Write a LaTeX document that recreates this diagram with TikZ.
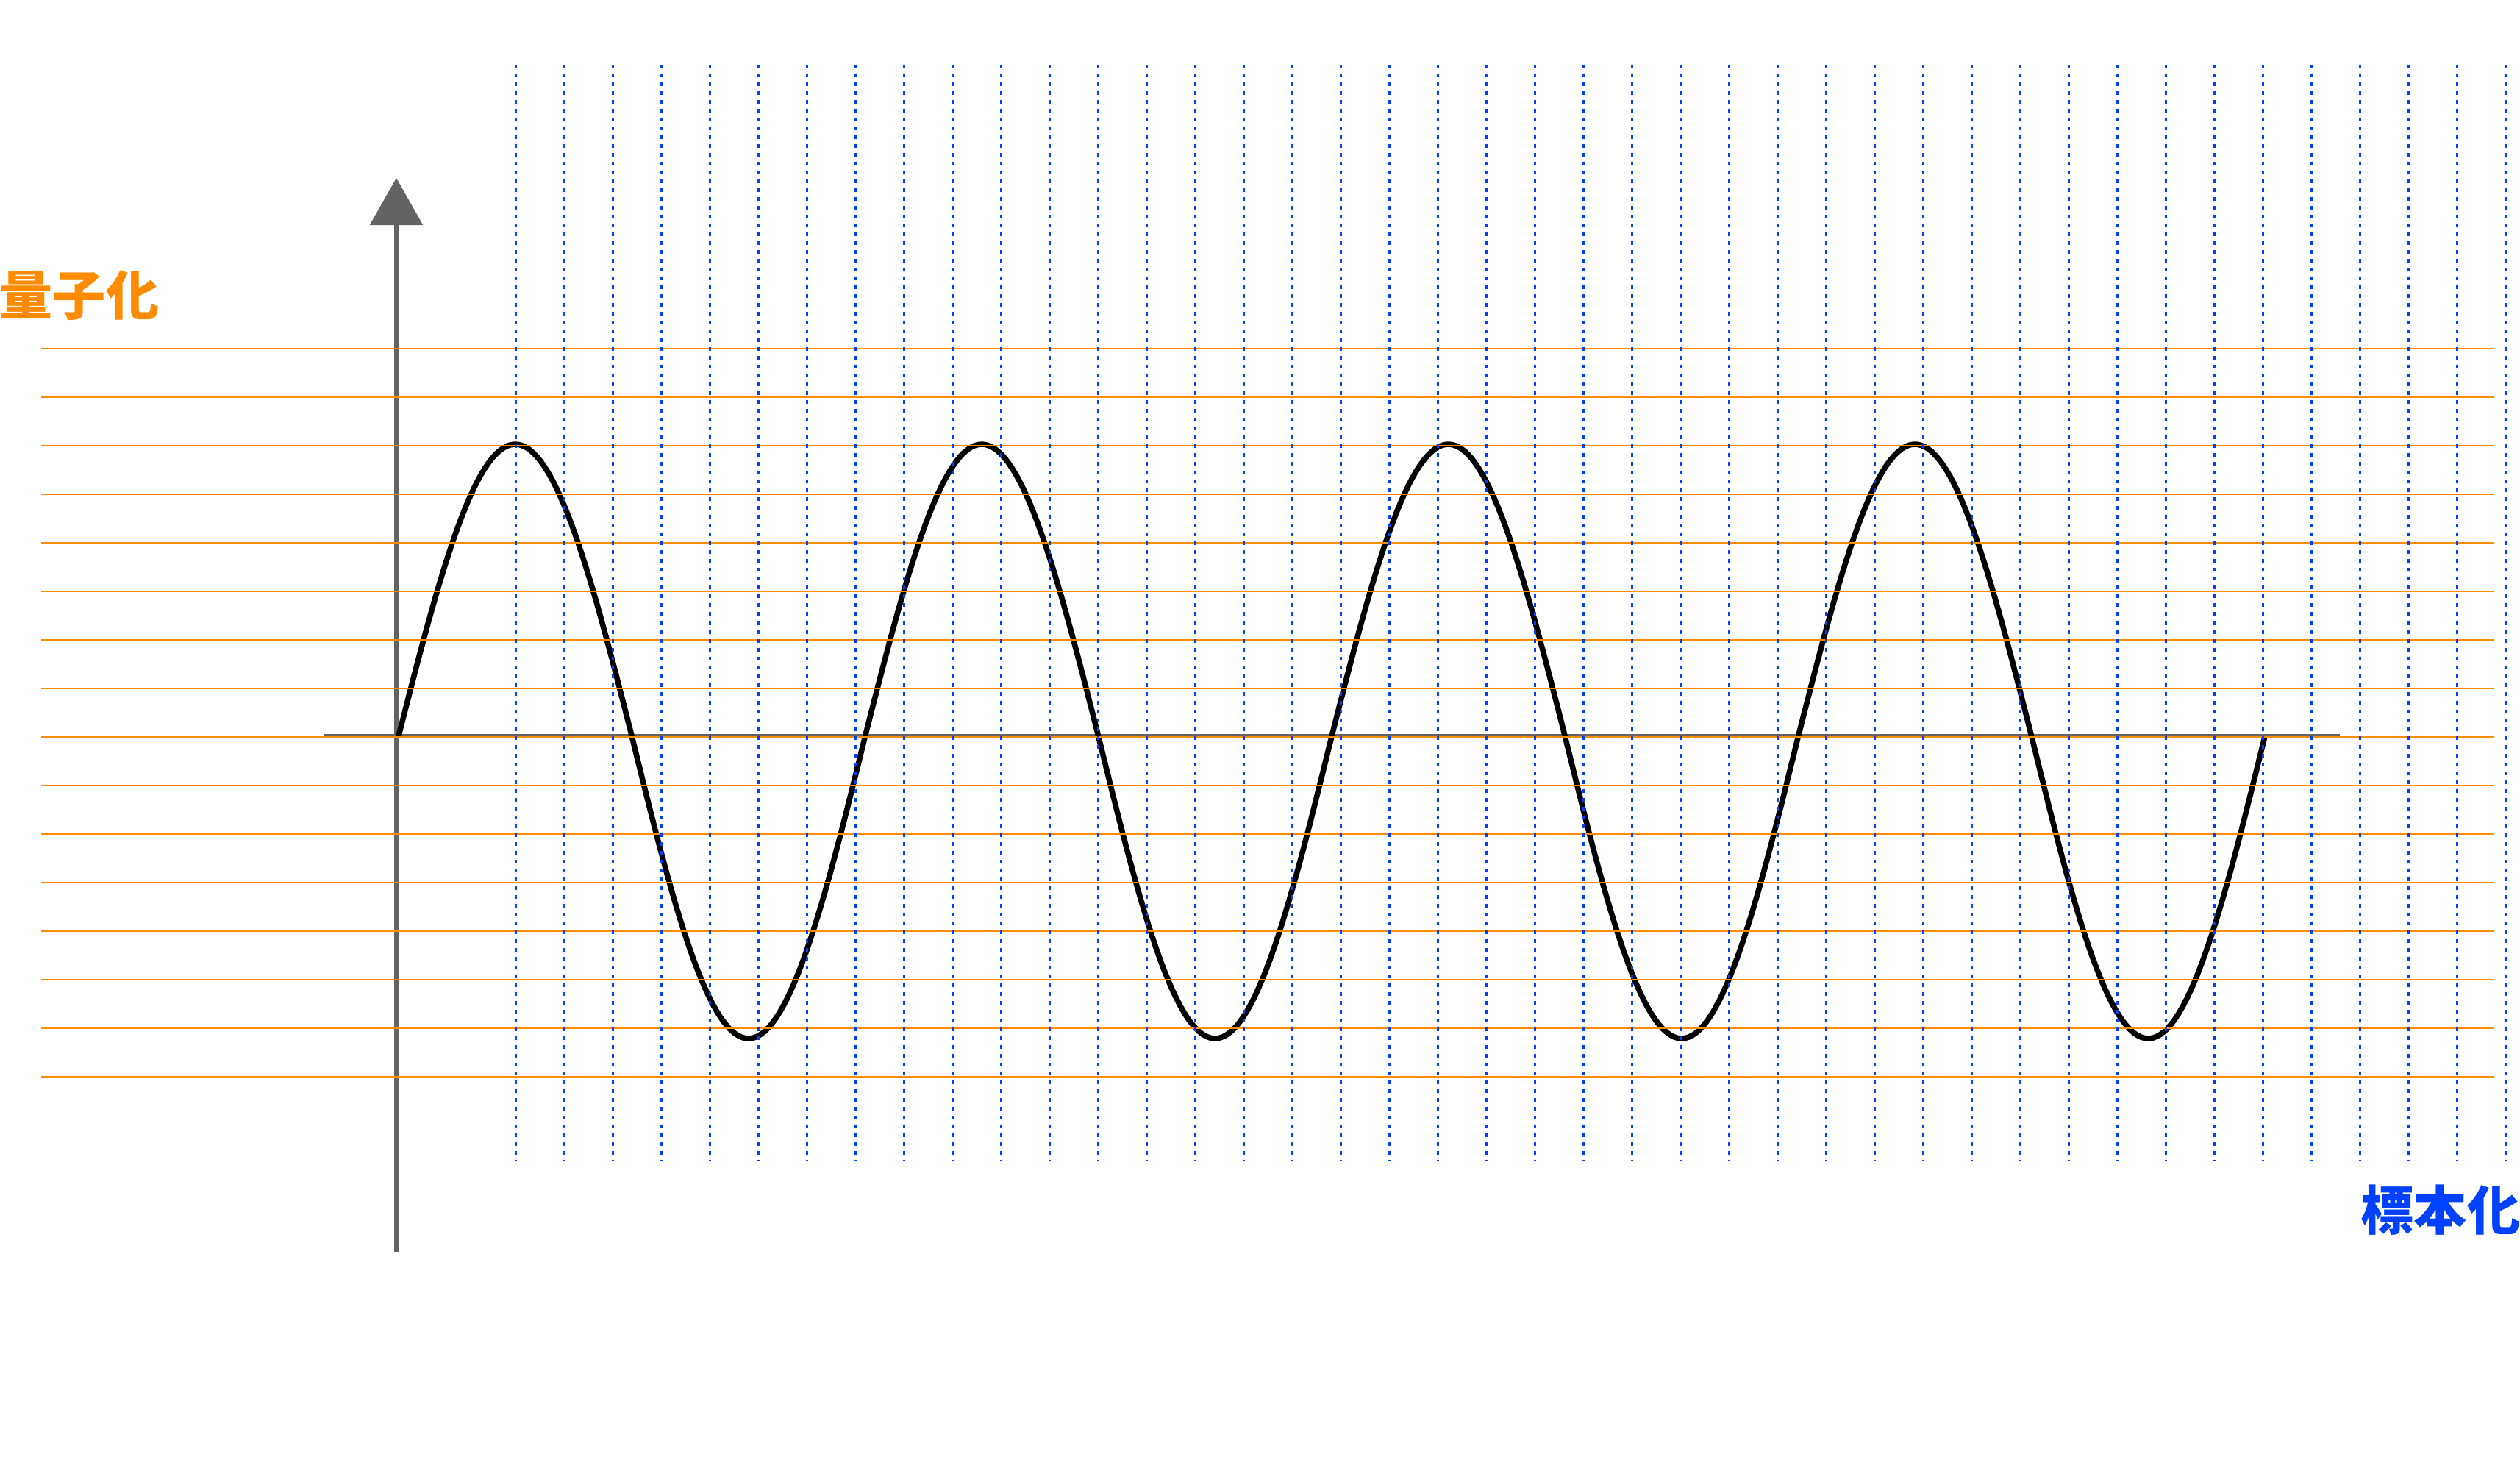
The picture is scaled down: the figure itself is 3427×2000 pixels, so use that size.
\documentclass[tikz,border=0pt]{standalone}
\usepackage{fontspec}
\newfontfamily\jpfont{Noto Sans CJK JP}
\usetikzlibrary{arrows.meta}
\definecolor{qorange}{RGB}{255,140,0}
\definecolor{sblue}{RGB}{0,64,255}
\definecolor{axisgray}{RGB}{99,99,99}
\begin{document}
\begin{tikzpicture}[x={(0.01cm,0cm)},y={(0cm,-0.01cm)},
  every node/.style={inner sep=0pt, outer sep=0pt},
  axisline/.style={color=axisgray, line width=0.06cm},
  qline/.style={color=qorange, line width=0.02cm},
  sline/.style={color=sblue, line width=0.03cm, dash pattern=on 0.05cm off 0.07cm},
  wave/.style={color=black, line width=0.075cm},
  qlabel/.style={text=qorange, font=\jpfont\bfseries\fontsize{20.5pt}{24pt}\selectfont},
  slabel/.style={text=sblue, font=\jpfont\bfseries\fontsize{20.5pt}{24pt}\selectfont}]

\useasboundingbox (0,0) rectangle (3427,2000);

\coordinate (origin) at (539,1001);
\coordinate (ybot) at (539,1702);
\coordinate (ytop) at (539,242);
\coordinate (xleft) at (441,1001);
\coordinate (xright) at (3182,1001);

% axes
\draw[axisline,-{Triangle[width=0.71cm,length=0.64cm]}] (ybot) -- (ytop);
\draw[axisline] (xleft) -- (xright);

% signal
\draw[wave] plot[domain=542:3080, samples=500]
  (\x, {1001 - 404*sin((\x-542)/634.5*360) + 7*abs(sin((\x-542)/634.5*360))});

% quantisation levels
\draw[qline] (56,474) -- (3391,474);
\draw[qline] (56,540) -- (3391,540);
\draw[qline] (56,606) -- (3391,606);
\draw[qline] (56,672) -- (3391,672);
\draw[qline] (56,738) -- (3391,738);
\draw[qline] (56,804) -- (3391,804);
\draw[qline] (56,870) -- (3391,870);
\draw[qline] (56,936) -- (3391,936);
\draw[qline] (56,1002) -- (3391,1002);
\draw[qline] (56,1068) -- (3391,1068);
\draw[qline] (56,1134) -- (3391,1134);
\draw[qline] (56,1200) -- (3391,1200);
\draw[qline] (56,1266) -- (3391,1266);
\draw[qline] (56,1332) -- (3391,1332);
\draw[qline] (56,1398) -- (3391,1398);
\draw[qline] (56,1464) -- (3391,1464);

% sampling instants
\draw[sline] (701,88) -- (701,1578);
\draw[sline] (767,88) -- (767,1578);
\draw[sline] (833,88) -- (833,1578);
\draw[sline] (899,88) -- (899,1578);
\draw[sline] (965,88) -- (965,1578);
\draw[sline] (1031,88) -- (1031,1578);
\draw[sline] (1097,88) -- (1097,1578);
\draw[sline] (1163,88) -- (1163,1578);
\draw[sline] (1229,88) -- (1229,1578);
\draw[sline] (1295,88) -- (1295,1578);
\draw[sline] (1361,88) -- (1361,1578);
\draw[sline] (1427,88) -- (1427,1578);
\draw[sline] (1493,88) -- (1493,1578);
\draw[sline] (1559,88) -- (1559,1578);
\draw[sline] (1625,88) -- (1625,1578);
\draw[sline] (1691,88) -- (1691,1578);
\draw[sline] (1757,88) -- (1757,1578);
\draw[sline] (1823,88) -- (1823,1578);
\draw[sline] (1889,88) -- (1889,1578);
\draw[sline] (1955,88) -- (1955,1578);
\draw[sline] (2021,88) -- (2021,1578);
\draw[sline] (2087,88) -- (2087,1578);
\draw[sline] (2153,88) -- (2153,1578);
\draw[sline] (2219,88) -- (2219,1578);
\draw[sline] (2285,88) -- (2285,1578);
\draw[sline] (2351,88) -- (2351,1578);
\draw[sline] (2417,88) -- (2417,1578);
\draw[sline] (2483,88) -- (2483,1578);
\draw[sline] (2549,88) -- (2549,1578);
\draw[sline] (2615,88) -- (2615,1578);
\draw[sline] (2681,88) -- (2681,1578);
\draw[sline] (2747,88) -- (2747,1578);
\draw[sline] (2813,88) -- (2813,1578);
\draw[sline] (2879,88) -- (2879,1578);
\draw[sline] (2945,88) -- (2945,1578);
\draw[sline] (3011,88) -- (3011,1578);
\draw[sline] (3077,88) -- (3077,1578);
\draw[sline] (3143,88) -- (3143,1578);
\draw[sline] (3209,88) -- (3209,1578);
\draw[sline] (3275,88) -- (3275,1578);
\draw[sline] (3341,88) -- (3341,1578);
\draw[sline] (3407,88) -- (3407,1578);

\node[qlabel] (quant) at (108,402) {量子化};
\node[slabel] (samp) at (3319,1645) {標本化};
\end{tikzpicture}
\end{document}
